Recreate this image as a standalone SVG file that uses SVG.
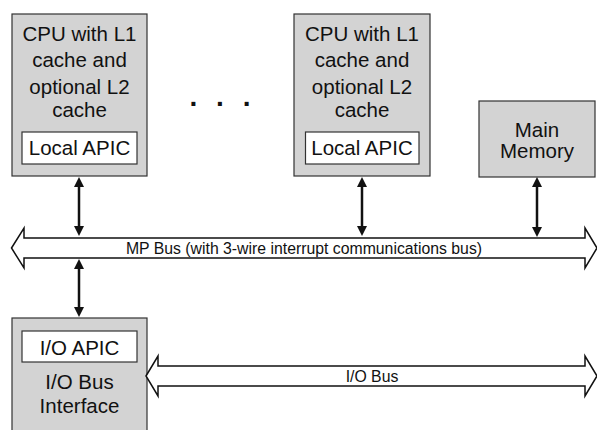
<svg xmlns="http://www.w3.org/2000/svg" width="597" height="430" viewBox="0 0 597 430">
<style>
.box{fill:#d3d3d3;stroke:#333;stroke-width:1.2}
.inner{fill:#fff;stroke:#333;stroke-width:1.2}
.t{font-family:"Liberation Sans",Arial,sans-serif;font-size:20.5px;fill:#111;text-anchor:middle}
.s{font-family:"Liberation Sans",Arial,sans-serif;font-size:15.8px;fill:#111;text-anchor:middle}
.bus{fill:#fff;stroke:#111;stroke-width:1.5;stroke-linejoin:miter}
.v{stroke:#111;stroke-width:2.5;fill:none;marker-start:url(#ah);marker-end:url(#ah)}
.dot{font-family:"Liberation Sans",Arial,sans-serif;font-size:28px;font-weight:bold;fill:#111;text-anchor:middle}
</style>
<defs>
<marker id="ah" markerUnits="userSpaceOnUse" viewBox="0 0 10 10" refX="5" refY="5" markerWidth="10" markerHeight="10" orient="auto-start-reverse">
<path d="M0,0 L10,5 L0,10 z" fill="#111"/>
</marker>
</defs>
<rect width="597" height="430" fill="#fff"/>

<g id="cpu1">
<rect class="box" x="12" y="14" width="135" height="162"/>
<text class="t" x="79.5" y="40.5">CPU with L1</text>
<text class="t" x="79.5" y="67">cache and</text>
<text class="t" x="79.5" y="93.5">optional L2</text>
<text class="t" x="79.5" y="116.5">cache</text>
<rect class="inner" x="22" y="132" width="115" height="32"/>
<text class="t" x="79.5" y="154.5">Local APIC</text>
</g>

<g id="dots">
<text class="dot" x="193.3" y="105.5">.</text>
<text class="dot" x="220" y="105.5">.</text>
<text class="dot" x="246.7" y="105.5">.</text>
</g>

<g id="cpu2">
<rect class="box" x="294" y="14" width="136" height="162"/>
<text class="t" x="362" y="40.5">CPU with L1</text>
<text class="t" x="362" y="67">cache and</text>
<text class="t" x="362" y="93.5">optional L2</text>
<text class="t" x="362" y="116.5">cache</text>
<rect class="inner" x="305.5" y="132" width="113.5" height="32"/>
<text class="t" x="362" y="154.5">Local APIC</text>
</g>

<g id="memory">
<rect class="box" x="479" y="101" width="116" height="76"/>
<text class="t" x="537" y="136.5">Main</text>
<text class="t" x="537" y="158">Memory</text>
</g>

<g id="io">
<rect class="box" x="12" y="318" width="135" height="130"/>
<rect class="inner" x="22" y="331" width="115" height="31"/>
<text class="t" x="79.5" y="354.5">I/O APIC</text>
<text class="t" x="79.5" y="389">I/O Bus</text>
<text class="t" x="79.5" y="413">Interface</text>
</g>

<g id="mpbus">
<polygon class="bus" points="11.5,248 24,228 24,238 585,238 585,228 597,248 585,268 585,258 24,258 24,268"/>
<text class="s" x="304" y="254">MP Bus (with 3-wire interrupt communications bus)</text>
</g>

<g id="iobus">
<polygon class="bus" points="146,376 158,356 158,366 585,366 585,356 597,376 585,396 585,386 158,386 158,396"/>
<text class="s" x="372" y="381.5">I/O Bus</text>
</g>

<g id="connectors">
<line class="v" x1="79" y1="182" x2="79" y2="231"/>
<line class="v" x1="79" y1="264" x2="79" y2="312"/>
<line class="v" x1="362" y1="182" x2="362" y2="231"/>
<line class="v" x1="537" y1="182" x2="537" y2="232"/>
</g>
</svg>
